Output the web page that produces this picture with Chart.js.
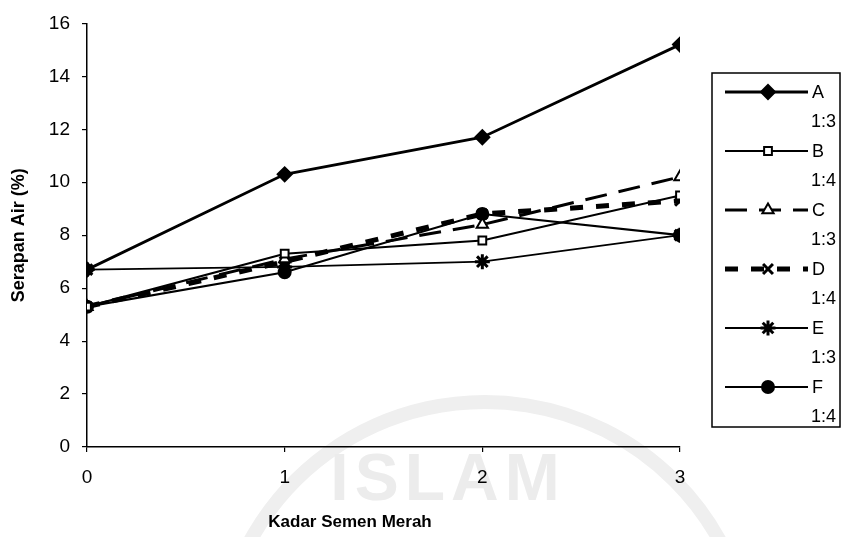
<!DOCTYPE html>
<html>
<head>
<meta charset="utf-8">
<title>Serapan Air</title>
<script src="https://cdn.jsdelivr.net/npm/chart.js@4.4.1/dist/chart.umd.min.js"></script>
<style>
  html, body { margin: 0; padding: 0; background: #fff; }
  #wrap { width: 845px; height: 537px; }
</style>
</head>
<body>
<div id="wrap"><canvas id="serapanChart" width="845" height="537"></canvas></div>
<script>
// kadar semen merah (sumbu x)
const kadar = [0, 1, 2, 3];

// serapan air (%) tiap benda uji
const serapanA = [6.7, 10.3, 11.7, 15.2];
const serapanB = [5.3, 7.3, 7.8, 9.5];
const serapanC = [5.3, 7.1, 8.4, 10.2];
const serapanD = [5.3, 7.0, 8.8, 9.3];
const serapanE = [6.7, 6.8, 7.0, 8.0];
const serapanF = [5.3, 6.6, 8.8, 8.0];

const namaSeri = ['A', 'B', 'C', 'D', 'E', 'F'];
const campuran = ['1:3', '1:4', '1:3', '1:4', '1:3', '1:4'];

const judulX = 'Kadar Semen Merah';
const judulY = 'Serapan Air (%)';

const fontName = '"Liberation Sans", Arial, sans-serif';

/**
 * pasangan x,y untuk satu seri
 */
function toPoints(values) {
    return values.map((v, i) => ({ x: kadar[i], y: v }));
}

// gaya garis dan penanda tiap seri
const gaya = [
    { data: serapanA, borderWidth: 2.8, borderDash: [], pointStyle: 'rectRot', radius: 7, fill: '#000' },
    { data: serapanB, borderWidth: 2.2, borderDash: [], pointStyle: 'rect', radius: 5.5, fill: '#fff' },
    { data: serapanC, borderWidth: 3, borderDash: [22, 12], pointStyle: 'triangle', radius: 6.5, fill: '#fff' },
    { data: serapanD, borderWidth: 5, borderDash: [13, 13], pointStyle: 'crossRot', radius: 7, fill: '#000' },
    { data: serapanE, borderWidth: 1.8, borderDash: [], pointStyle: 'star', radius: 7.5, fill: '#000' },
    { data: serapanF, borderWidth: 2.2, borderDash: [], pointStyle: 'circle', radius: 6, fill: '#000' }
];

const datasets = gaya.map((g, i) => ({
    label: namaSeri[i] + ' ' + campuran[i],
    data: toPoints(g.data),
    borderColor: '#000',
    backgroundColor: g.fill,
    borderWidth: g.borderWidth,
    borderDash: g.borderDash,
    pointStyle: g.pointStyle,
    pointRadius: g.radius,
    pointBorderWidth: g.pointStyle === 'crossRot' || g.pointStyle === 'star' ? 3 : 2,
    pointBackgroundColor: g.fill,
    pointBorderColor: '#000',
    tension: 0
}));

// cap samar di belakang grafik
const capLatar = {
    id: 'capLatar',
    beforeDraw(chart) {
        const ctx = chart.ctx;
        ctx.save();
        ctx.strokeStyle = '#efefef';
        ctx.lineWidth = 14;
        ctx.beginPath();
        ctx.arc(485, 670, 268, Math.PI * 1.05, Math.PI * 1.95);
        ctx.stroke();
        ctx.fillStyle = '#ececec';
        ctx.font = 'bold 66px ' + fontName;
        ctx.letterSpacing = '6px';
        ctx.textAlign = 'center';
        ctx.textBaseline = 'alphabetic';
        ctx.fillText('ISLAM', 448, 500);
        ctx.restore();
    }
};

// legenda di kanan grafik (dua baris per seri) dan judul sumbu x
const legendaKanan = {
    id: 'legendaKanan',
    afterDraw(chart) {
        const ctx = chart.ctx;
        const box = { left: 712, top: 73, right: 840, bottom: 427 };
        ctx.save();
        ctx.strokeStyle = '#000';
        ctx.lineWidth = 1.5;
        ctx.strokeRect(box.left, box.top, box.right - box.left, box.bottom - box.top);

        chart.data.datasets.forEach((ds, i) => {
            const y = 92 + i * 59;
            ctx.save();
            ctx.strokeStyle = '#000';
            ctx.lineWidth = ds.borderWidth;
            ctx.setLineDash(ds.borderDash);
            ctx.beginPath();
            ctx.moveTo(725, y);
            ctx.lineTo(808, y);
            ctx.stroke();
            ctx.restore();

            ctx.save();
            ctx.fillStyle = ds.pointBackgroundColor;
            ctx.strokeStyle = '#000';
            ctx.lineWidth = ds.pointBorderWidth;
            Chart.helpers.drawPoint(ctx, {
                pointStyle: ds.pointStyle,
                radius: ds.pointRadius,
                rotation: 0,
                borderWidth: ds.pointBorderWidth
            }, 768, y);
            ctx.restore();

            ctx.fillStyle = '#000';
            ctx.font = '18px ' + fontName;
            ctx.textBaseline = 'middle';
            ctx.textAlign = 'left';
            ctx.fillText(namaSeri[i], 812, y + 1);
            ctx.fillText(campuran[i], 811, y + 30);
        });

        // judul sumbu x agak ke kiri dari tengah sumbu
        ctx.fillStyle = '#000';
        ctx.font = 'bold 17px ' + fontName;
        ctx.textAlign = 'center';
        ctx.textBaseline = 'middle';
        ctx.fillText(judulX, 350, 522);
        ctx.restore();
    }
};

const myChart = new Chart(document.getElementById('serapanChart'), {
    type: 'line',
    data: { datasets: datasets },
    options: {
        responsive: false,
        animation: false,
        layout: { padding: { top: 18, right: 165, left: 0, bottom: 0 } },
        plugins: {
            legend: { display: false },
            tooltip: { enabled: false }
        },
        scales: {
            x: {
                type: 'linear',
                min: 0,
                max: 3,
                afterFit(scale) { scale.height = 90; },
                border: { color: '#000', width: 1.5 },
                grid: { drawOnChartArea: false, color: '#000', tickLength: 5, lineWidth: 1.2 },
                ticks: {
                    stepSize: 1,
                    color: '#000',
                    padding: 14,
                    font: { family: fontName, size: 19 }
                }
            },
            y: {
                min: 0,
                max: 16,
                afterFit(scale) { scale.width = 87; },
                border: { color: '#000', width: 1.5 },
                grid: { drawOnChartArea: false, color: '#000', tickLength: 5, lineWidth: 1.2 },
                ticks: {
                    stepSize: 2,
                    color: '#000',
                    padding: 12,
                    font: { family: fontName, size: 19 }
                },
                title: {
                    display: true,
                    text: judulY,
                    color: '#000',
                    padding: { top: 8, bottom: 0 },
                    font: { family: fontName, size: 18, weight: 'bold' }
                }
            }
        }
    },
    plugins: [capLatar, legendaKanan]
});
</script>
</body>
</html>
